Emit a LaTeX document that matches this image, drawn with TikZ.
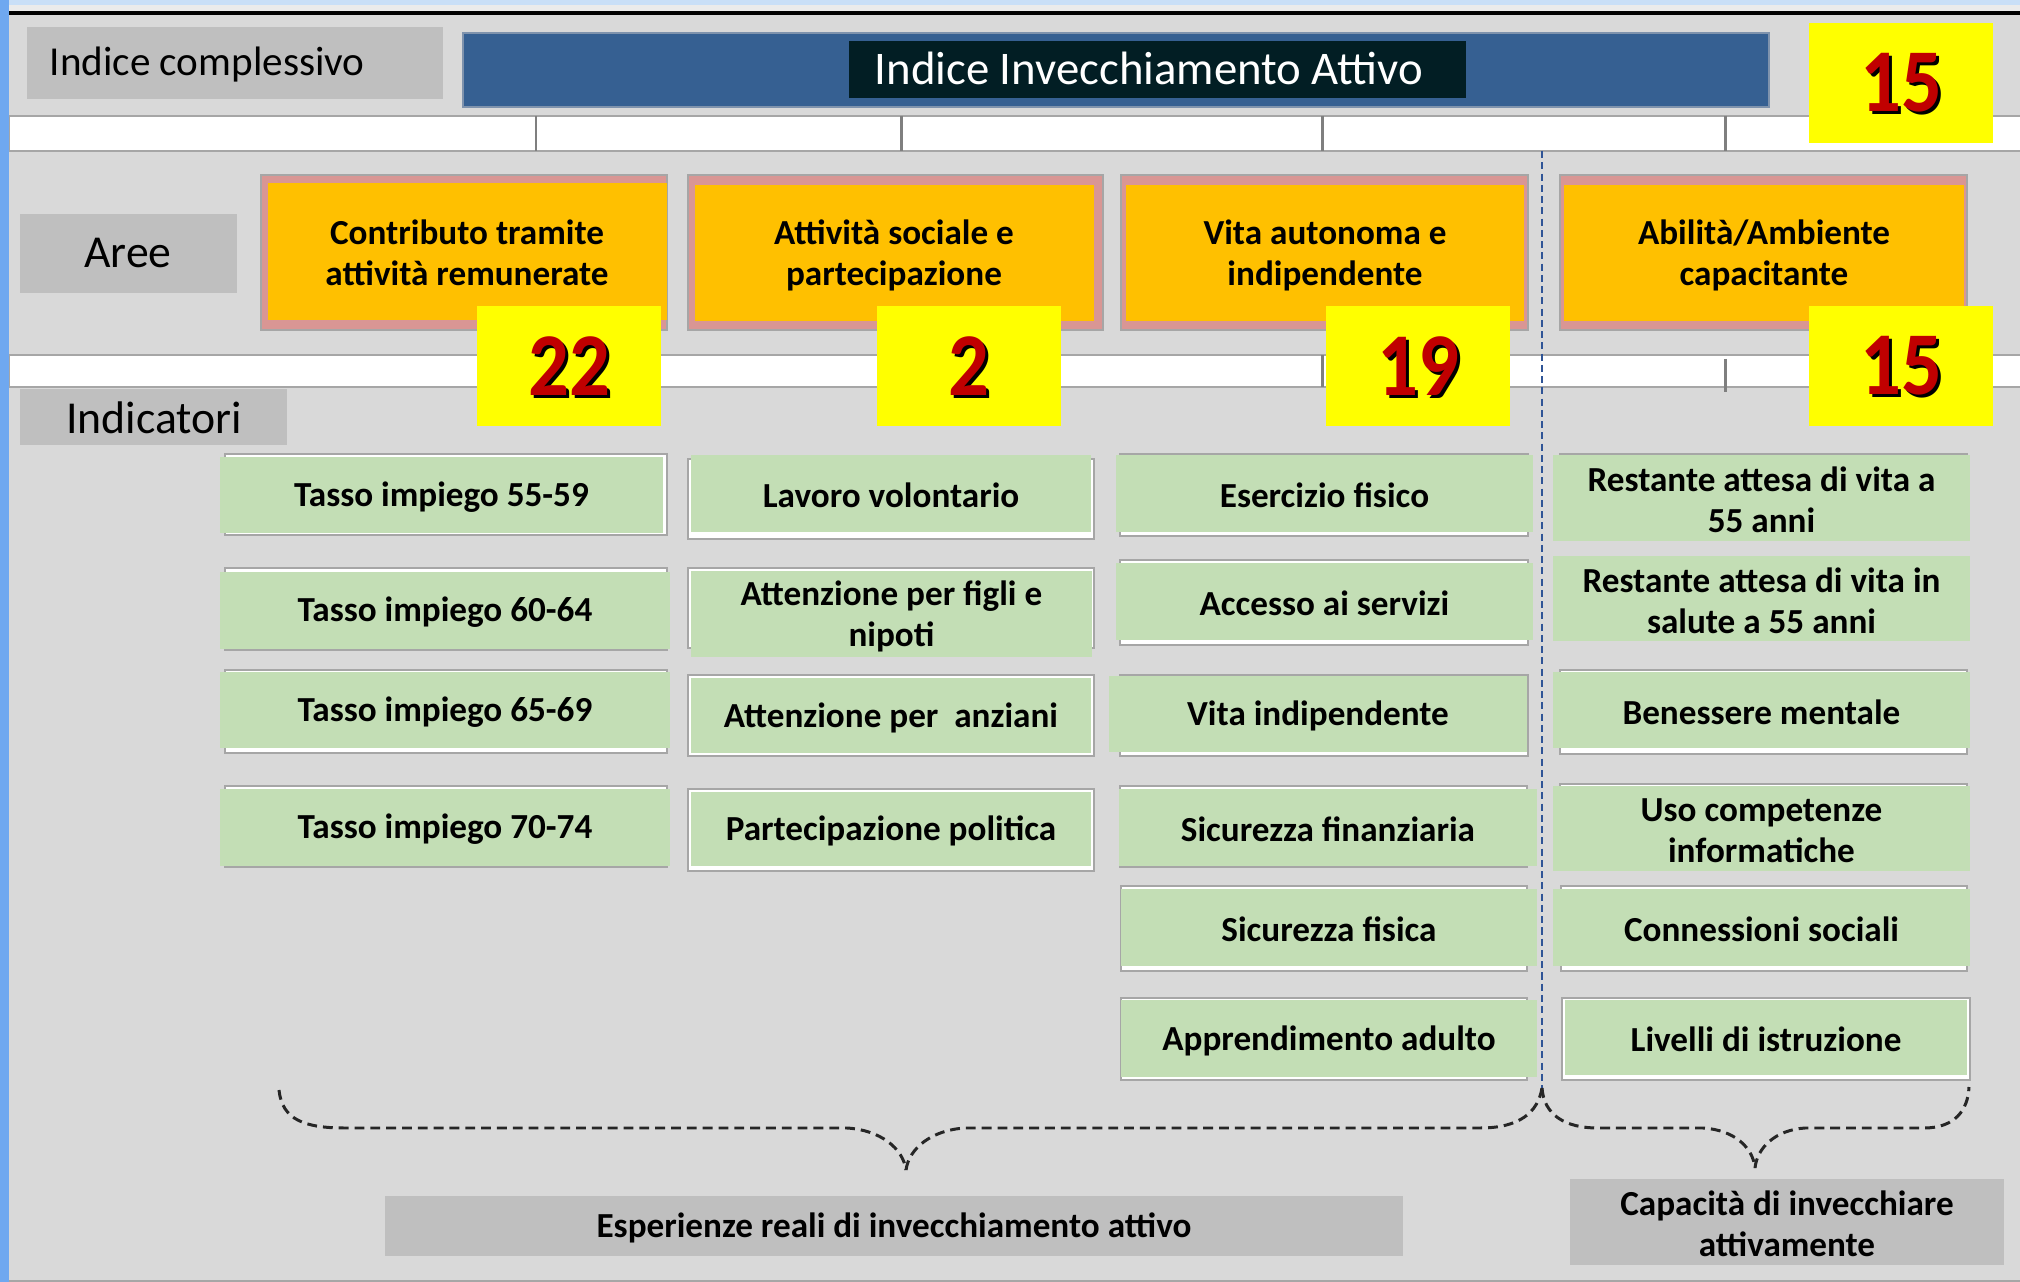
\documentclass[tikz,border=0pt]{standalone}
\usepackage{fontspec}
\setmainfont{Carlito}
\usepackage{graphicx}
\definecolor{bg}{HTML}{D9D9D9}
\definecolor{labgray}{HTML}{BFBFBF}
\definecolor{navy}{HTML}{366092}
\definecolor{navyedge}{HTML}{7F93AD}
\definecolor{titlebg}{HTML}{021E24}
\definecolor{areafill}{HTML}{FFC000}
\definecolor{areaedge}{HTML}{D99694}
\definecolor{indgreen}{HTML}{C3DEB5}
\definecolor{framegray}{HTML}{A6A6A6}
\definecolor{tickgray}{HTML}{7F7F7F}
\definecolor{numred}{HTML}{C00000}
\definecolor{numyellow}{HTML}{FFFF00}
\definecolor{desk}{HTML}{6FA8F0}
\definecolor{deskpale}{HTML}{C9DFF7}
\definecolor{splitblue}{HTML}{2F5496}

% green indicator box: name, x1, y1, x2, y2, text
\newcommand\indbox[6]{%
  \fill[indgreen] (#2,#3) rectangle (#4,#5);
  \node[boldtxt] (#1) at ({(#2+#4)/2},{(#3+#5)/2+2}) {#6};}
% white frame lying under an indicator box
\newcommand\indframe[4]{%
  \filldraw[fill=white,draw=framegray,line width=0.6pt] (#1,#2) rectangle (#3,#4);}
% yellow score box with shadowed figure: name, cx, cy, figure
\newcommand\scorebox[4]{%
  \fill[numyellow] ({#2-92},{#3-60}) rectangle ({#2+92},{#3+60});
  \node[numtxt,black] (#1s) at ({#2+3},{#3+3}) {\scalebox{0.9}[1]{#4}};
  \node[numtxt,numred] (#1) at (#2,#3) {\scalebox{0.9}[1]{#4}};}

\begin{document}
\begin{tikzpicture}[x=0.01cm,y=-0.01cm,
  lab/.style={inner sep=0pt,font=\fontsize{13}{15}\selectfont},
  boldtxt/.style={inner sep=0pt,align=center,font=\fontsize{10}{11.7}\selectfont\bfseries},
  numtxt/.style={inner sep=0pt,font=\fontsize{25.5}{25.5}\selectfont\bfseries},
  bandline/.style={fill=white,draw=framegray,line width=0.6pt},
  tick/.style={tickgray,line width=0.85pt},
  brace/.style={dash pattern=on 2.8pt off 1.7pt,line width=0.85pt,black!85},
  split/.style={splitblue,dash pattern=on 2pt off 1.2pt,line width=0.55pt}]

\useasboundingbox (0,0) rectangle (2020,1282);
\fill[bg] (0,0) rectangle (2020,1282);
\fill[deskpale] (0,0) rectangle (2020,5);
\fill[white!92!black] (0,5) rectangle (2020,11);
\draw[line width=0.9pt] (9,13) -- (2020,13);
\draw[framegray,line width=0.5pt] (9,1281) -- (2020,1281);

% horizontal bands with ticks
\filldraw[bandline] (9,116) rectangle (2030,151);
\filldraw[bandline] (9,355) rectangle (2030,387);
\foreach \tx in {536,901,1322,1725} \draw[tick] (\tx,116) -- (\tx,151);
\draw[tick] (1322,355) -- (1322,387);
\draw[tick] (1725,359) -- (1725,392);

% level labels
\fill[labgray] (27,27) rectangle (443,99);
\node[lab,font=\fontsize{11.7}{14}\selectfont,anchor=base west] (overall) at (49,76) {Indice complessivo};
\fill[labgray] (20,214) rectangle (237,293);
\node[lab,anchor=base] (aree) at (128,268) {Aree};
\fill[labgray] (20,389) rectangle (287,445);
\node[lab,anchor=base] (indicatori) at (154,433) {Indicatori};

% title bar
\filldraw[fill=navy,draw=navyedge,line width=0.8pt] (463,33) rectangle (1769,107);
\fill[titlebg] (849,41) rectangle (1466,98);
\node[white,inner sep=0pt,anchor=base,font=\fontsize{13.3}{16}\selectfont] (iia) at (1149,85) {Indice Invecchiamento Attivo};

% domains
\filldraw[fill=areaedge,draw=framegray,line width=0.5pt] (261,175) rectangle (667,330);
\fill[areafill] (268,183) rectangle (667,320);
\node[boldtxt] (area1) at (467,253) {Contributo tramite\\attività remunerate};
\filldraw[fill=areaedge,draw=framegray,line width=0.5pt] (688,175) rectangle (1103,330);
\fill[areafill] (695,185) rectangle (1094,321);
\node[boldtxt] (area2) at (894,255) {Attività sociale e\\partecipazione};
\filldraw[fill=areaedge,draw=framegray,line width=0.5pt] (1121,175) rectangle (1528,330);
\fill[areafill] (1126,185) rectangle (1524,321);
\node[boldtxt] (area3) at (1325,255) {Vita autonoma e\\indipendente};
\filldraw[fill=areaedge,draw=framegray,line width=0.5pt] (1560,175) rectangle (1967,330);
\fill[areafill] (1564,185) rectangle (1964,321);
\node[boldtxt] (area4) at (1764,255) {Abilità/Ambiente\\capacitante};

% indicators, column 1
\indframe{225}{454}{667}{535}
\indbox{t5559}{220}{457}{663}{533}{Tasso impiego 55-59}
\indframe{225}{568}{667}{650}
\indbox{t6064}{220}{572}{670}{649}{Tasso impiego 60-64}
\indframe{225}{670}{667}{753}
\indbox{t6569}{220}{672}{670}{748}{Tasso impiego 65-69}
\indframe{225}{786}{667}{867}
\indbox{t7074}{220}{789}{670}{866}{Tasso impiego 70-74}

% indicators, column 2
\indframe{688}{459}{1094}{539}
\indbox{volont}{691}{455}{1091}{532}{Lavoro volontario}
\indframe{688}{568}{1094}{648}
\indbox{figli}{691}{571}{1092}{657}{Attenzione per figli e\\nipoti}
\indframe{688}{675}{1094}{756}
\indbox{anziani}{691}{678}{1091}{753}{Attenzione per~ anziani}
\indframe{688}{789}{1094}{871}
\indbox{politica}{691}{792}{1091}{866}{Partecipazione politica}

% indicators, column 3
\indframe{1120}{454}{1528}{536}
\indbox{eserc}{1116}{455}{1533}{532}{Esercizio fisico}
\indframe{1120}{560}{1528}{645}
\indbox{servizi}{1116}{563}{1533}{640}{Accesso ai servizi}
\indframe{1120}{675}{1528}{756}
\indbox{vitaind}{1109}{676}{1527}{752}{Vita indipendente}
\indframe{1120}{786}{1527}{867}
\indbox{sicfin}{1119}{789}{1537}{866}{Sicurezza finanziaria}
\indframe{1121}{886}{1527}{971}
\indbox{sicfis}{1121}{889}{1537}{966}{Sicurezza fisica}
\indframe{1121}{998}{1527}{1080}
\indbox{apprend}{1121}{1000}{1537}{1077}{Apprendimento adulto}

% indicators, column 4
\indframe{1560}{454}{1967}{538}
\indbox{vita55}{1553}{455}{1970}{541}{Restante attesa di vita a\\55 anni}
\indbox{salute55}{1553}{556}{1970}{641}{Restante attesa di vita in\\salute a 55 anni}
\indframe{1560}{670}{1967}{754}
\indbox{mentale}{1553}{672}{1970}{748}{Benessere mentale}
\indframe{1560}{784}{1967}{868}
\indbox{ict}{1553}{786}{1970}{871}{Uso competenze\\informatiche}
\indframe{1561}{886}{1967}{971}
\indbox{sociali}{1553}{889}{1970}{966}{Connessioni sociali}
\indframe{1562}{998}{1970}{1080}
\indbox{istruz}{1565}{1000}{1967}{1075}{Livelli di istruzione}

% divider between the two groups of domains
\coordinate (splittop) at (1542,151);
\coordinate (splitbot) at (1542,1088);
\draw[split] (splittop) -- (splitbot);

% braces
\coordinate (b1l) at (279,1090);
\coordinate (b1tip) at (906,1170);
\coordinate (b2tip) at (1755,1168);
\coordinate (b2r) at (1969,1087);
\draw[brace] (b1l) .. controls (282,1120) and (305,1128) .. (345,1128) -- (847,1128)
  .. controls (880,1130) and (903,1148) .. (b1tip);
\draw[brace] (b1tip) .. controls (909,1148) and (932,1130) .. (965,1128) -- (1480,1128)
  .. controls (1520,1128) and (1538,1112) .. (splitbot);
\draw[brace] (splitbot) .. controls (1544,1115) and (1565,1128) .. (1598,1128) -- (1703,1128)
  .. controls (1735,1130) and (1753,1148) .. (b2tip);
\draw[brace] (b2tip) .. controls (1757,1148) and (1775,1130) .. (1805,1128) -- (1924,1128)
  .. controls (1955,1128) and (1968,1110) .. (b2r);

% group labels
\fill[labgray] (385,1196) rectangle (1403,1256);
\node[boldtxt] (esperienze) at (894,1228) {Esperienze reali di invecchiamento attivo};
\fill[labgray] (1570,1179) rectangle (2004,1265);
\node[boldtxt] (capacita) at (1787,1224) {Capacità di invecchiare\\attivamente};

% scores
\scorebox{ntot}{1901}{83}{15}
\scorebox{na}{569}{366}{22}
\scorebox{nb}{969}{366}{2}
\scorebox{nc}{1418}{366}{19}
\scorebox{nd}{1901}{366}{15}

% desktop edge on the left
\fill[desk] (0,0) rectangle (9,1282);
\end{tikzpicture}
\end{document}
